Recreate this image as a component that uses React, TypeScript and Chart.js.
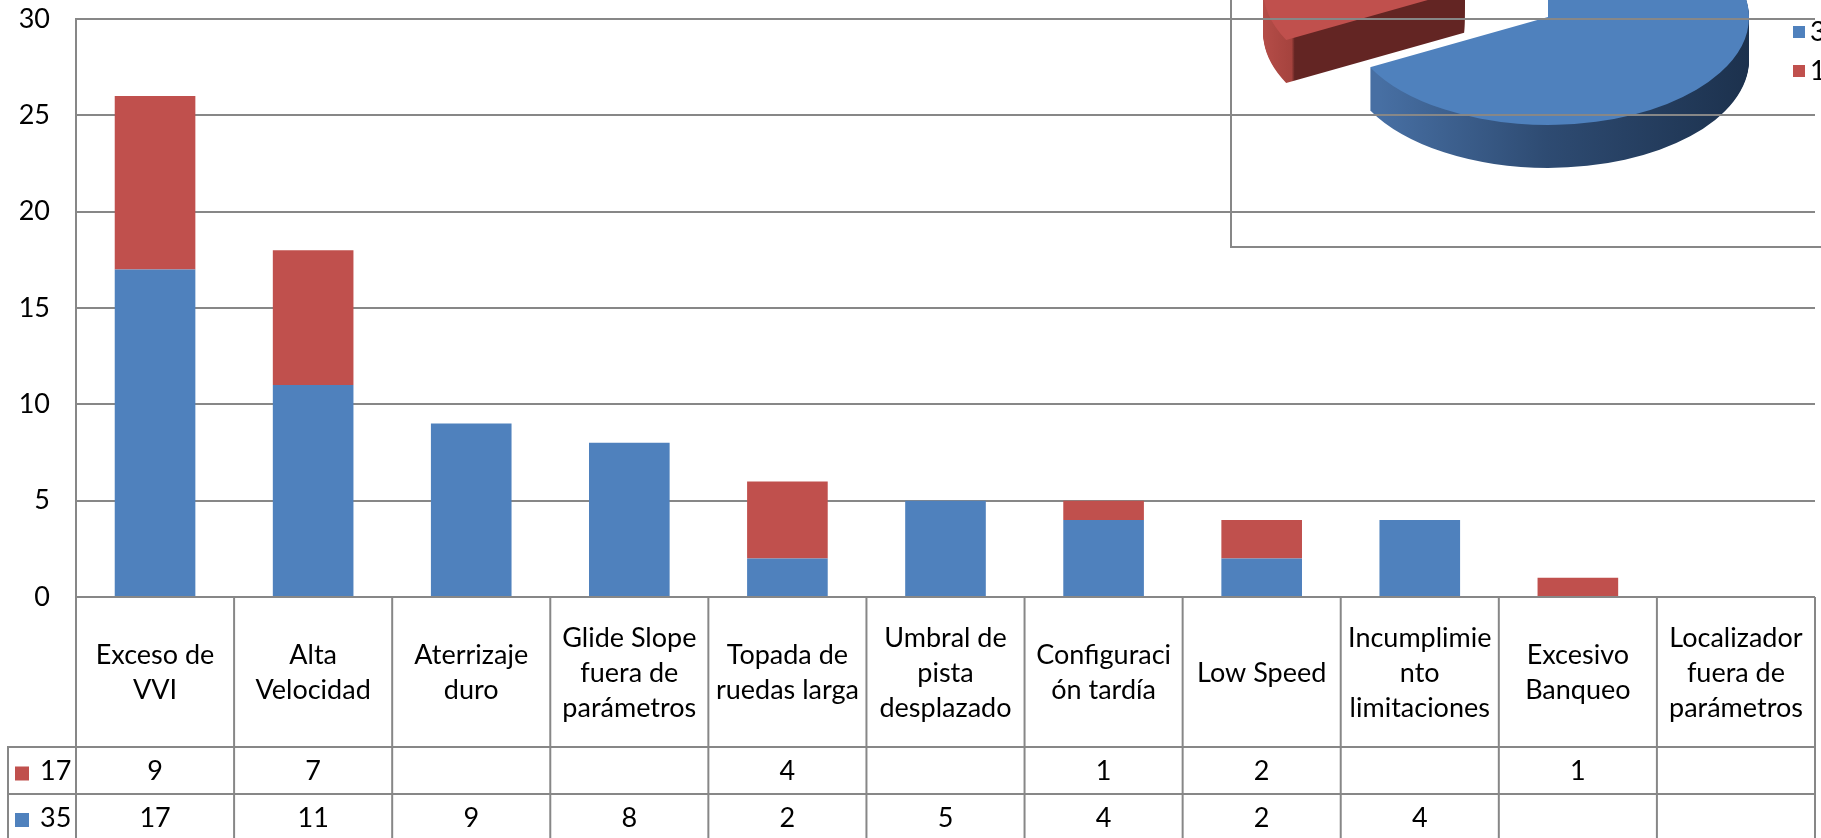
import React, { useEffect, useRef } from 'react';
import { Chart, registerables } from 'chart.js';

Chart.register(...registerables);

// ---------- data ----------
const categories: string[][] = [
  ['Exceso de', 'VVI'],
  ['Alta', 'Velocidad'],
  ['Aterrizaje', 'duro'],
  ['Glide Slope', 'fuera de', 'parámetros'],
  ['Topada de', 'ruedas larga'],
  ['Umbral de', 'pista', 'desplazado'],
  ['Configuraci', 'ón tardía'],
  ['Low Speed'],
  ['Incumplimie', 'nto', 'limitaciones'],
  ['Excesivo', 'Banqueo'],
  ['Localizador', 'fuera de', 'parámetros'],
];
const seriesBlueName = '35';
const seriesRedName = '17';
const seriesBlue: (number | null)[] = [17, 11, 9, 8, 2, 5, 4, 2, 4, null, null];
const seriesRed: (number | null)[] = [9, 7, null, null, 4, null, 1, 2, null, 1, null];
const yMin = 0;
const yMax = 30;
const yStep = 5;
const pieLabels = ['35', '17'];
const pieValues = [35, 17];

// ---------- styles ----------
const BLUE = '#4F81BD';
const RED = '#C0504D';
const GRID = '#878787';
const FONT = 'Lato';
const TABLE_FONT_SIZE = 27;
const TICK_FONT_SIZE = 27;

const W = 1821;
const H = 838;

// pie inset geometry (page coords)
const PIE_LEFT = 1230;
const PIE_TOP = -214;
const PIE_W = 636;
const PIE_H = 462;
const PIE_RADIUS = 201;
const SQUASH = 0.537;
const DEPTH = 43;
const EXPLODE = 98;

const tablePlugin = {
  id: 'dataTable',
  afterDraw(chart: any) {
    const { ctx, chartArea } = chart;
    const x = chart.scales.x;
    const labels: string[][] = chart.data.labels;
    const n = labels.length;
    const colW = x.getPixelForValue(1) - x.getPixelForValue(0);
    const left = chartArea.left;
    const right = chartArea.right;
    const top = chartArea.bottom;
    const r1 = top + 150;
    const r2 = r1 + 47;
    const r3 = r2 + 46;
    const legendLeft = 8;

    ctx.save();
    ctx.strokeStyle = GRID;
    ctx.lineWidth = 2;
    const line = (x0: number, y0: number, x1: number, y1: number) => {
      ctx.beginPath();
      ctx.moveTo(x0, y0);
      ctx.lineTo(x1, y1);
      ctx.stroke();
    };
    line(left, top, right, top);
    line(legendLeft - 1, r1, right, r1);
    line(legendLeft - 1, r2, right, r2);
    line(legendLeft - 1, r3, right, r3);
    for (let i = 0; i <= n; i++) {
      const xb = i < n ? x.getPixelForValue(i) - colW / 2 : right;
      line(xb, top, xb, r3 + 2);
    }
    line(legendLeft, r1, legendLeft, r3 + 2);

    ctx.fillStyle = '#000';
    ctx.font = `${TABLE_FONT_SIZE}px ${FONT}`;
    ctx.textAlign = 'center';
    ctx.textBaseline = 'middle';
    const lh = 35;
    const midCat = (top + r1) / 2;
    labels.forEach((lines, i) => {
      const cx = x.getPixelForValue(i);
      const start = midCat - ((lines.length - 1) * lh) / 2;
      lines.forEach((t, j) => ctx.fillText(t, cx, start + j * lh + 1));
    });

    const ds = chart.data.datasets;
    // row order: red series (top row), blue series (bottom row)
    const rows = [
      { d: ds[1], y: (r1 + r2) / 2 },
      { d: ds[0], y: (r2 + r3) / 2 },
    ];
    rows.forEach(({ d, y }) => {
      d.data.forEach((v: number | null, i: number) => {
        if (v !== null && v !== undefined) ctx.fillText(String(v), x.getPixelForValue(i), y + 1);
      });
      ctx.fillStyle = d.backgroundColor;
      ctx.fillRect(15, y - 4, 14, 14);
      ctx.fillStyle = '#000';
      ctx.textAlign = 'left';
      ctx.fillText(d.label, 40, y + 1);
      ctx.textAlign = 'center';
    });
    ctx.restore();
  },
};

const pie3dPlugin = {
  id: 'pie3d',
  afterDatasetsUpdate(chart: any) {
    const meta = chart.getDatasetMeta(0);
    const arc = meta.data[1];
    if (!arc) return;
    const mid = (arc.startAngle + arc.endAngle) / 2;
    arc.x += Math.cos(mid) * EXPLODE;
    arc.y += Math.sin(mid) * EXPLODE;
  },
  beforeDraw(chart: any) {
    const { ctx, width, height } = chart;
    ctx.save();
    ctx.strokeStyle = GRID;
    ctx.lineWidth = 2;
    ctx.beginPath();
    ctx.moveTo(1, 0);
    ctx.lineTo(1, height - 1);
    ctx.lineTo(width, height - 1);
    ctx.stroke();
    ctx.restore();
  },
  beforeDatasetsDraw(chart: any) {
    const { ctx, chartArea } = chart;
    const cy = (chartArea.top + chartArea.bottom) / 2;
    ctx.save();
    ctx.translate(0, cy);
    ctx.scale(1, SQUASH);
    ctx.translate(0, -cy);
    const blueGrad = ctx.createLinearGradient(1380 - PIE_LEFT, 0, 1750 - PIE_LEFT, 0);
    blueGrad.addColorStop(0, '#476fa3');
    blueGrad.addColorStop(0.45, '#2e4b72');
    blueGrad.addColorStop(1, '#1c314d');
    const redGrad = ctx.createLinearGradient(1262 - PIE_LEFT, 0, 1300 - PIE_LEFT, 0);
    redGrad.addColorStop(0, '#b54d48');
    redGrad.addColorStop(0.78, '#a5433e');
    redGrad.addColorStop(0.86, '#632523');
    redGrad.addColorStop(1, '#632523');
    const meta = chart.getDatasetMeta(0);
    meta.data.forEach((arc: any, i: number) => {
      const { x, y, startAngle, endAngle, outerRadius } = arc;
      ctx.fillStyle = i === 0 ? blueGrad : redGrad;
      for (let j = DEPTH; j >= 1; j--) {
        const yy = y + j / SQUASH;
        ctx.beginPath();
        ctx.moveTo(x, yy);
        ctx.arc(x, yy, outerRadius, startAngle, endAngle);
        ctx.closePath();
        ctx.fill();
      }
    });
  },
  afterDatasetsDraw(chart: any) {
    chart.ctx.restore();
  },
  afterDraw(chart: any) {
    const { ctx } = chart;
    const ds = chart.data.datasets[0];
    ctx.save();
    ctx.font = `${TABLE_FONT_SIZE}px ${FONT}`;
    ctx.textBaseline = 'middle';
    ctx.textAlign = 'left';
    chart.data.labels.forEach((lab: string, i: number) => {
      const y = 26 - PIE_TOP + i * 39;
      ctx.fillStyle = ds.backgroundColor[i];
      ctx.fillRect(1793 - PIE_LEFT, y, 12, 12);
      ctx.fillStyle = '#000';
      ctx.fillText(lab, 1810 - PIE_LEFT, y + 6);
    });
    ctx.restore();
  },
};

export default function App() {
  const barRef = useRef<HTMLCanvasElement | null>(null);
  const pieRef = useRef<HTMLCanvasElement | null>(null);

  useEffect(() => {
    if (!barRef.current || !pieRef.current) return;
    const pie = new Chart(pieRef.current, {
      type: 'pie',
      data: {
        labels: pieLabels,
        datasets: [
          {
            data: pieValues,
            backgroundColor: [BLUE, RED],
            borderWidth: 0,
            radius: PIE_RADIUS,
            clip: false,
          } as any,
        ],
      },
      options: {
        responsive: false,
        animation: false,
        radius: PIE_RADIUS,
        layout: { padding: 0 },
        events: [],
        plugins: { legend: { display: false }, tooltip: { enabled: false } },
      } as any,
      plugins: [pie3dPlugin],
    });

    const bar = new Chart(barRef.current, {
      type: 'bar',
      data: {
        labels: categories as any,
        datasets: [
          {
            label: seriesBlueName,
            data: seriesBlue,
            backgroundColor: BLUE,
            barPercentage: 0.51,
            categoryPercentage: 1,
            borderWidth: 0,
          },
          {
            label: seriesRedName,
            data: seriesRed,
            backgroundColor: RED,
            barPercentage: 0.51,
            categoryPercentage: 1,
            borderWidth: 0,
          },
        ],
      },
      options: {
        responsive: false,
        animation: false,
        events: [],
        layout: { padding: { top: 19, right: 6, bottom: 241, left: 0 } },
        plugins: { legend: { display: false }, tooltip: { enabled: false } },
        scales: {
          x: { display: false, stacked: true },
          y: {
            stacked: true,
            min: yMin,
            max: yMax,
            ticks: {
              stepSize: yStep,
              padding: 26,
              color: '#000',
              font: { family: FONT, size: TICK_FONT_SIZE },
            },
            grid: { color: GRID, lineWidth: 2, drawTicks: false },
            border: { display: true, color: GRID, width: 2 },
            afterFit: (s: any) => {
              s.width = 76;
              s.paddingTop = 0;
              s.paddingBottom = 0;
            },
          },
        },
      } as any,
      plugins: [tablePlugin],
    });

    return () => {
      bar.destroy();
      pie.destroy();
    };
  }, []);

  return (
    <div
      style={{
        position: 'fixed',
        left: 0,
        top: 0,
        width: W,
        height: H,
        overflow: 'hidden',
        background: '#fff',
      }}
    >
      <canvas
        ref={pieRef}
        width={PIE_W}
        height={PIE_H}
        style={{ position: 'absolute', left: PIE_LEFT, top: PIE_TOP, width: PIE_W, height: PIE_H }}
      />
      <canvas
        ref={barRef}
        width={W}
        height={H}
        style={{ position: 'absolute', left: 0, top: 0, width: W, height: H }}
      />
    </div>
  );
}
